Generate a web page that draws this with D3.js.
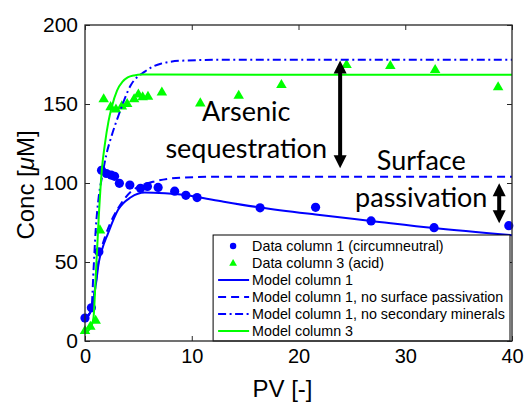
<!DOCTYPE html>
<html>
<head>
<meta charset="utf-8">
<script src="https://cdn.jsdelivr.net/npm/d3@7"></script>
<style>
body { margin: 0; background: #fff; }
svg text { font-family: "Liberation Sans", Arial, sans-serif; }
</style>
</head>
<body>
<div id="chart"></div>
<script>
// data column 1 (circumneutral)
var circPv = [0, 0.6, 1.3, 1.55, 2.0, 2.45, 2.77, 3.22, 4.2, 5.2, 5.85, 6.85, 8.4, 9.45, 10.5, 16.4, 21.6, 26.8, 32.7, 39.7];
var circC  = [14.5, 21, 56.5, 108, 106, 105, 104.2, 99.8, 98.7, 96.6, 97.8, 97.2, 94.8, 92.2, 90.8, 84.3, 84.6, 76, 71.7, 73];
// data column 3 (acid)
var triPv = [0, 0.5, 1.0, 1.4, 1.75, 2.4, 2.9, 3.45, 3.95, 4.6, 5.0, 5.4, 5.9, 7.2, 10.8, 14.4, 18.4, 24.5, 28.6, 32.8, 38.7];
var triC  = [6.3, 9, 12.8, 70, 153, 148, 146.5, 148.5, 150, 153, 156, 154.3, 154.6, 157.3, 150.4, 155.2, 162, 174.7, 174, 171.5, 160.6];

// model curves
var m1Pv = [0, 0.6, 1.0, 1.3, 1.6, 2.15, 3.1, 4.3, 5.6, 7.5, 9.6, 10.5, 13, 16.4, 21.6, 26.8, 32.7, 40];
var m1C  = [14, 20, 35, 50, 58, 68, 83, 91, 94, 93.5, 92.2, 91.2, 88.2, 84.5, 80, 76, 71.5, 67];
var m1npPv = [0, 0.6, 1.0, 1.3, 1.6, 2.15, 3.1, 4.3, 5.5, 6.5, 9.3, 13, 40];
var m1npC  = [14, 20, 36, 52, 60, 71, 84, 94.5, 99, 101, 103.5, 104, 104];
var m1nsPv = [0, 0.6, 0.8, 1.0, 1.3, 1.6, 2.0, 2.5, 3.1, 4.3, 5.6, 7.1, 9.3, 13, 40];
var m1nsC  = [14, 20, 45, 70, 92, 104, 118, 130, 142, 162, 170.5, 175.5, 177.5, 178, 178];
var m3Pv = [0, 0.5, 0.8, 1.0, 1.3, 1.6, 1.85, 2.2, 2.5, 3.0, 3.5, 4.0, 4.6, 5.3, 40];
var m3C  = [5, 8, 15, 40, 80, 110, 124, 139, 148, 158.5, 164, 166.8, 168.1, 168.6, 168.5];

var xTicks = [0, 10, 20, 30, 40];
var yTicks = [0, 50, 100, 150, 200];

var legendLabels = [
    "Data column 1 (circumneutral)",
    "Data column 3 (acid)",
    "Model column 1",
    "Model column 1, no surface passivation",
    "Model column 1, no secondary minerals",
    "Model column 3"
];

var W = 526, H = 402;
var margin = { top: 25, right: 14, bottom: 61, left: 85 },
    width = W - margin.left - margin.right,
    height = H - margin.top - margin.bottom;

var blue = "#0000ff", green = "#00ff00", axisCol = "#262626";

var svg = d3.select("#chart").append("svg")
    .attr("width", W)
    .attr("height", H);

var g = svg.append("g")
    .attr("transform", "translate(" + margin.left + "," + margin.top + ")");

var x = d3.scaleLinear().domain([0, 40]).range([0, width]);
var y = d3.scaleLinear().domain([0, 200]).range([height, 0]);

function zip(a, b) { return a.map(function (v, i) { return [v, b[i]]; }); }

var line = d3.line()
    .x(function (d) { return x(d[0]); })
    .y(function (d) { return y(d[1]); })
    .curve(d3.curveMonotoneX);

// markers
g.selectAll(".circ")
    .data(zip(circPv, circC))
    .enter().append("circle")
    .attr("cx", function (d) { return x(d[0]); })
    .attr("cy", function (d) { return y(d[1]); })
    .attr("r", 4.6)
    .attr("fill", blue);

var tri = d3.symbol().type(d3.symbolTriangle).size(48);
g.selectAll(".tri")
    .data(zip(triPv, triC))
    .enter().append("path")
    .attr("d", tri)
    .attr("transform", function (d) { return "translate(" + x(d[0]) + "," + y(d[1]) + ")"; })
    .attr("fill", green);

// model lines
var models = [
    { pts: zip(m1Pv, m1C), color: blue, dash: null },
    { pts: zip(m1npPv, m1npC), color: blue, dash: "8,5" },
    { pts: zip(m1nsPv, m1nsC), color: blue, dash: "8,3.5,2,3.5" },
    { pts: zip(m3Pv, m3C), color: green, dash: null }
];
models.forEach(function (m) {
    g.append("path")
        .datum(m.pts)
        .attr("d", line)
        .attr("fill", "none")
        .attr("stroke", m.color)
        .attr("stroke-width", 2)
        .attr("stroke-dasharray", m.dash);
});

// annotations
var annotFont = "Lato, 'Open Sans', sans-serif";
function label(lines, px, py) {
    var t = g.append("text")
        .attr("text-anchor", "middle")
        .style("font-family", annotFont)
        .style("font-size", "27px")
        .attr("fill", "#000");
    lines.forEach(function (s, i) {
        t.append("tspan").attr("x", x(px)).attr("y", y(py) + i * 37).text(s);
    });
}
label(["Arsenic", "sequestration"], 15.1, 139);
label(["Surface", "passivation"], 31.5, 108.5);

function dblArrow(px, c1, c2) {
    var x0 = x(px), y1 = y(c1), y2 = y(c2), hw = 6.5, hl = 13;
    g.append("line")
        .attr("x1", x0).attr("x2", x0)
        .attr("y1", y1 + hl - 1).attr("y2", y2 - hl + 1)
        .attr("stroke", "#000").attr("stroke-width", 4);
    g.append("path")
        .attr("d", "M" + x0 + "," + y1 + "L" + (x0 - hw) + "," + (y1 + hl) + "L" + (x0 + hw) + "," + (y1 + hl) + "Z")
        .attr("fill", "#000");
    g.append("path")
        .attr("d", "M" + x0 + "," + y2 + "L" + (x0 - hw) + "," + (y2 - hl) + "L" + (x0 + hw) + "," + (y2 - hl) + "Z")
        .attr("fill", "#000");
}
dblArrow(23.9, 177.5, 109.3);
dblArrow(38.8, 99.8, 74.5);

// axes: inward ticks on all four sides
function styleAxis(sel, fs) {
    sel.select(".domain").remove();
    sel.selectAll("line").attr("stroke", axisCol).attr("stroke-width", 1);
    sel.selectAll("text").attr("fill", "#000").style("font-size", fs).style("font-family", "'Liberation Sans', Arial, sans-serif");
}
g.append("g")
    .attr("transform", "translate(0," + height + ")")
    .call(d3.axisBottom(x).tickValues(xTicks).tickSizeInner(-5).tickSizeOuter(0).tickPadding(8))
    .call(styleAxis, "20px");
g.append("g")
    .call(d3.axisTop(x).tickValues(xTicks).tickSizeInner(-5).tickSizeOuter(0).tickFormat(""))
    .call(styleAxis, "20px");
g.append("g")
    .call(d3.axisLeft(y).tickValues(yTicks).tickSizeInner(-5).tickSizeOuter(0).tickPadding(7))
    .call(styleAxis, "21px");
g.append("g")
    .attr("transform", "translate(" + width + ",0)")
    .call(d3.axisRight(y).tickValues(yTicks).tickSizeInner(-5).tickSizeOuter(0).tickFormat(""))
    .call(styleAxis, "21px");

// legend
var lg = g.append("g").attr("transform", "translate(" + (x(12) ) + "," + (height - 106) + ")");
lg.append("rect")
    .attr("width", width - x(12) - 2).attr("height", 106)
    .attr("fill", "#fff").attr("stroke", "#000").attr("stroke-width", 1);
var rowH = 17;
legendLabels.forEach(function (s, i) {
    var cy = 11 + i * rowH;
    if (i === 0) {
        lg.append("circle").attr("cx", 20).attr("cy", cy).attr("r", 3.2).attr("fill", blue);
    } else if (i === 1) {
        lg.append("path").attr("d", d3.symbol().type(d3.symbolTriangle).size(26))
            .attr("transform", "translate(20," + (cy + 0.5) + ")").attr("fill", green);
    } else {
        var m = models[i - 2];
        lg.append("line").attr("x1", 5).attr("x2", 36).attr("y1", cy).attr("y2", cy)
            .attr("stroke", m.color).attr("stroke-width", 2)
            .attr("stroke-dasharray", m.dash);
    }
    lg.append("text").attr("x", 39).attr("y", cy + 5)
        .style("font-size", "14.3px").attr("fill", "#000").text(s);
});

// box
g.append("rect")
    .attr("width", width).attr("height", height)
    .attr("fill", "none").attr("stroke", axisCol).attr("stroke-width", 1.3);

// axis labels
svg.append("text")
    .attr("x", margin.left + width / 2 - 16).attr("y", 397)
    .attr("text-anchor", "middle")
    .style("font-size", "24px").attr("fill", "#000")
    .text("PV [-]");

var yl = svg.append("text")
    .attr("transform", "translate(34," + (margin.top + height / 2 + 2) + ") rotate(-90)")
    .attr("text-anchor", "middle")
    .style("font-size", "24px").attr("fill", "#000");
yl.append("tspan").text("Conc [");
yl.append("tspan").style("font-style", "italic").text("\u03bc");
yl.append("tspan").text("M]");
</script>
</body>
</html>
